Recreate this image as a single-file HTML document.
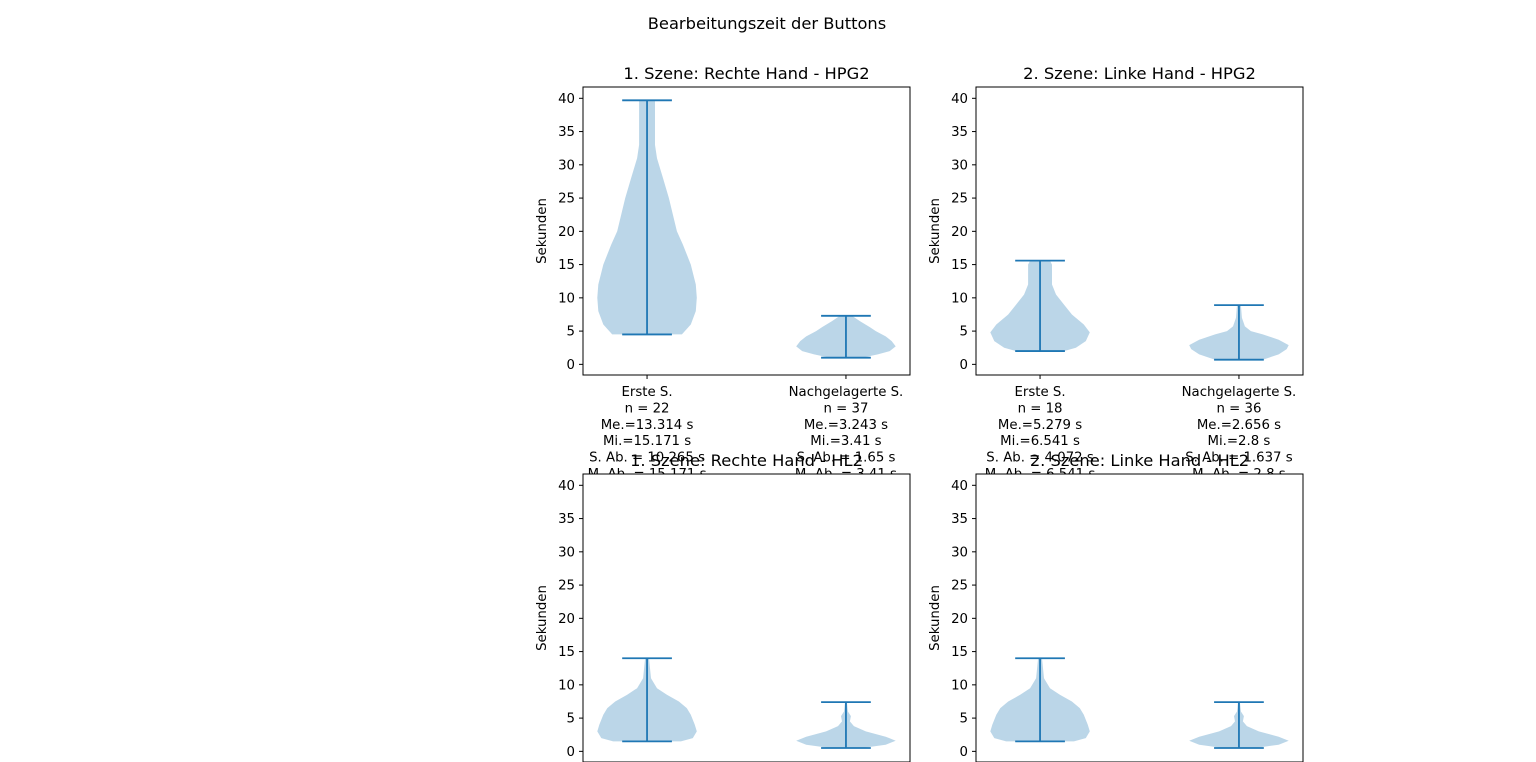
<!DOCTYPE html>
<html><head><meta charset="utf-8"><style>
html,body{margin:0;padding:0;background:#fff;}
svg{display:block;font-family:"DejaVu Sans","Liberation Sans",sans-serif;}
</style></head><body>
<svg id="c" width="1536" height="762" xmlns="http://www.w3.org/2000/svg">
<text x="767" y="29" text-anchor="middle" font-size="16.3">Bearbeitungszeit der Buttons</text>
</svg>
<script>
const titles = ["1. Szene: Rechte Hand - HPG2","2. Szene: Linke Hand - HPG2","1. Szene: Rechte Hand - HL2","2. Szene: Linke Hand - HL2"];
const categories = ["Erste S.","Nachgelagerte S."];
const statsLabels = [
 [["n = 22","Me.=13.314 s","Mi.=15.171 s","S. Ab. = 10.265 s","M. Ab. = 15.171 s"],["n = 37","Me.=3.243 s","Mi.=3.41 s","S. Ab. = 1.65 s","M. Ab. = 3.41 s"]],
 [["n = 18","Me.=5.279 s","Mi.=6.541 s","S. Ab. = 4.072 s","M. Ab. = 6.541 s"],["n = 36","Me.=2.656 s","Mi.=2.8 s","S. Ab. = 1.637 s","M. Ab. = 2.8 s"]]
];
const yTicks = [0,5,10,15,20,25,30,35,40];
// violin profiles: [value, half-width in x data units]
const violinValues = [
 [[[4.5,0.175],[6,0.22],[8,0.245],[10,0.25],[12,0.245],[15,0.22],[18,0.18],[20,0.15],[25,0.11],[28,0.08],[31,0.05],[33,0.04],[36,0.04],[39.7,0.04]],
  [[1,0.08],[1.5,0.16],[2,0.22],[2.7,0.25],[3.5,0.23],[4.2,0.2],[5,0.15],[5.6,0.12],[6.5,0.07],[7.3,0.03]]],
 [[[2,0.12],[2.5,0.18],[3.5,0.23],[4.8,0.25],[6,0.22],[7.5,0.16],[9,0.12],[10.5,0.08],[12,0.06],[13.5,0.06],[15,0.06],[15.6,0.05]],
  [[0.7,0.12],[1.5,0.2],[2.3,0.24],[2.9,0.25],[3.7,0.2],[4.5,0.12],[5,0.06],[5.7,0.03],[7,0.015],[8.9,0.01]]],
 [[[1.5,0.17],[2,0.23],[3,0.25],[4,0.24],[5.5,0.22],[6.5,0.2],[7.5,0.16],[8.5,0.1],[9.5,0.05],[11,0.02],[12.5,0.015],[14,0.01]],
  [[0.5,0.08],[1,0.2],[1.6,0.25],[2.2,0.2],[3,0.1],[3.8,0.04],[4.5,0.02],[5.3,0.025],[6,0.01],[7.4,0.005]]],
 [[[1.5,0.17],[2,0.23],[3,0.25],[4,0.24],[5.5,0.22],[6.5,0.2],[7.5,0.16],[8.5,0.1],[9.5,0.05],[11,0.02],[12.5,0.015],[14,0.01]],
  [[0.5,0.08],[1,0.2],[1.6,0.25],[2.2,0.2],[3,0.1],[3.8,0.04],[4.5,0.02],[5.3,0.025],[6,0.01],[7.4,0.005]]]
];
const NS="http://www.w3.org/2000/svg";
const svg=document.getElementById('c');
function mk(tag,attrs,parent){const e=document.createElementNS(NS,tag);for(const k in attrs)e.setAttribute(k,attrs[k]);(parent||svg).appendChild(e);return e;}
const panels=[{x:583,y:87},{x:976,y:87},{x:583,y:474},{x:976,y:474}];
const W=327,H=288,ymin=-1.6,ymax=41.7,xmin=0.678,xmax=2.322;
const groups=[];
panels.forEach((p,i)=>{
  const sx=v=>p.x+(v-xmin)/(xmax-xmin)*W;
  const sy=v=>p.y+H-(v-ymin)/(ymax-ymin)*H;
  const g=mk('g',{},svg);
  
  
  groups.push(g);
  mk('rect',{x:p.x,y:p.y,width:W,height:H,fill:'#fff'},g);
  violinValues[i].forEach((prof,j)=>{
    const c=j+1;
    let d='';
    prof.forEach((pt,k)=>{d+=(k?'L':'M')+sx(c-pt[1]).toFixed(1)+','+sy(pt[0]).toFixed(1);});
    for(let k=prof.length-1;k>=0;k--)d+='L'+sx(c+prof[k][1]).toFixed(1)+','+sy(prof[k][0]).toFixed(1);
    const body=mk('path',{d:d+'Z',fill:'#1f77b4','fill-opacity':0.3},g);
    
    
    const lo=prof[0][0],hi=prof[prof.length-1][0];
    mk('line',{x1:sx(c),x2:sx(c),y1:sy(lo),y2:sy(hi),stroke:'#1f77b4','stroke-width':1.8},g);
    [lo,hi].forEach(v=>mk('line',{x1:sx(c-0.125),x2:sx(c+0.125),y1:sy(v),y2:sy(v),stroke:'#1f77b4','stroke-width':1.8},g));
    mk('line',{x1:sx(c),x2:sx(c),y1:p.y+H,y2:p.y+H+4,stroke:'#000'},g);
  });
  mk('rect',{x:p.x,y:p.y,width:W,height:H,fill:'none',stroke:'#000','stroke-width':1},g);
  yTicks.forEach(t=>{
    mk('line',{x1:p.x-4,x2:p.x,y1:sy(t),y2:sy(t),stroke:'#000'},g);
    const tx=mk('text',{x:p.x-8,y:sy(t)+4.5,'text-anchor':'end','font-size':13.3},g);
    tx.textContent=t;
  });
  const yl=mk('text',{x:0,y:0,'font-size':13.3,'text-anchor':'middle',transform:`translate(${p.x-37},${p.y+H/2}) rotate(-90)`},g);
  
  
  yl.textContent='Sekunden';
});
// x labels for top panels, drawn before bottom panels so they get covered
[0,1].forEach(i=>{
  const p=panels[i];
  const sx=v=>p.x+(v-xmin)/(xmax-xmin)*W;
  categories.forEach((cat,j)=>{
    const lines=[cat].concat(statsLabels[i][j]);
    lines.forEach((ln,k)=>{
      const t=mk('text',{x:sx(j+1),y:p.y+H+21+k*16.4,'text-anchor':'middle','font-size':13.3},svg);
      
      
      t.textContent=ln;
    });
  });
});
svg.appendChild(groups[2]);svg.appendChild(groups[3]);
panels.forEach((p,i)=>{
  const t=mk('text',{x:p.x+W/2,y:p.y-8,'text-anchor':'middle','font-size':16.3},svg);
  
  
  t.textContent=titles[i];
});
</script>
</body></html>
